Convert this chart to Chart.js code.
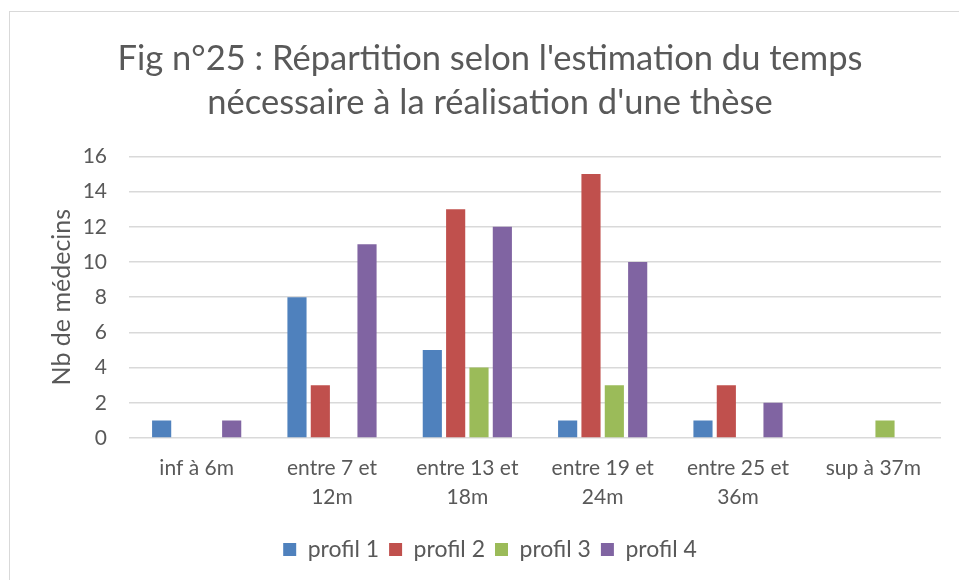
<!DOCTYPE html>
<html>
<head>
<meta charset="utf-8">
<script src="https://cdn.jsdelivr.net/npm/chart.js@4.4.0/dist/chart.umd.min.js"></script>
<style>
  html, body { margin: 0; padding: 0; background: #fff; overflow: hidden; width: 959px; height: 580px; }
  #wrap { position: absolute; left: 0; top: 0; width: 980px; height: 580px; }
  #frame { position: absolute; left: 9px; top: 11px; width: 1000px; height: 600px; border: 1px solid #D9D9D9; pointer-events: none; }
</style>
</head>
<body>
<div id="wrap"><canvas id="c" width="980" height="580"></canvas></div>
<div id="frame"></div>
<script>
const categories = [["inf à 6m"], ["entre 7 et", "12m"], ["entre 13 et", "18m"], ["entre 19 et", "24m"], ["entre 25 et", "36m"], ["sup à 37m"]];
const seriesNames = ["profil 1", "profil 2", "profil 3", "profil 4"];
const profil1 = [1, 8, 5, 1, 1, 0];
const profil2 = [0, 3, 13, 15, 3, 0];
const profil3 = [0, 0, 4, 3, 0, 1];
const profil4 = [1, 11, 12, 10, 2, 0];
const colors = ["#4F81BD", "#C0504D", "#9BBB59", "#8064A2"];
const titleLines = ["Fig n°25 : Répartition selon l'estimation du temps", "nécessaire à la réalisation d'une thèse"];
const yTitle = "Nb de médecins";
const yMin = 0, yMax = 16, yStep = 2;

const FONT = "Lato";
const TXT = "#595959";

const values = [profil1, profil2, profil3, profil4];
new Chart(document.getElementById("c"), {
  type: "bar",
  data: {
    labels: categories,
    datasets: seriesNames.map((n, i) => ({
      label: n,
      data: values[i],
      backgroundColor: colors[i],
      borderWidth: 0,
      categoryPercentage: 0.69,
      barPercentage: 0.82
    }))
  },
  options: {
    responsive: false,
    animation: false,
    layout: { padding: { left: 39, right: 39, top: 0, bottom: 9 } },
    plugins: {
      title: {
        display: true,
        text: titleLines,
        color: TXT,
        font: { family: FONT, size: 34.5, weight: "normal", lineHeight: 1.28 },
        padding: { top: 37, bottom: 31 }
      },
      legend: {
        position: "bottom",
        labels: {
          color: TXT,
          font: { family: FONT, size: 23 },
          boxWidth: 13,
          boxHeight: 13,
          padding: 10
        }
      },
      tooltip: { enabled: false }
    },
    scales: {
      x: {
        grid: { display: false, drawTicks: false },
        border: { display: false },
        ticks: { color: TXT, font: { family: FONT, size: 21, lineHeight: 1.38 }, padding: 16, maxRotation: 0 }
      },
      y: {
        min: yMin, max: yMax,
        afterFit: (scale) => { scale.width = 90; },
        ticks: { stepSize: yStep, color: TXT, font: { family: FONT, size: 21 }, padding: 22 },
        grid: { color: "#D9D9D9", lineWidth: 1.5, drawTicks: false },
        border: { display: false },
        title: { display: true, text: yTitle, color: TXT, font: { family: FONT, size: 25, lineHeight: 1 }, padding: { top: 10, bottom: 8 } }
      }
    }
  }
});
</script>
</body>
</html>
